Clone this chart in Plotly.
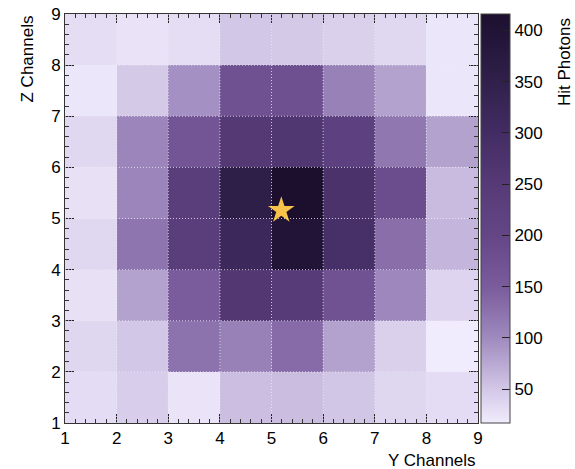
import plotly.graph_objects as go

# Channel centres (bins span 1..9)
y_channels = [1.5, 2.5, 3.5, 4.5, 5.5, 6.5, 7.5, 8.5]
z_channels = [1.5, 2.5, 3.5, 4.5, 5.5, 6.5, 7.5, 8.5]

# Hit photons, rows from Z=1-2 (bottom) to Z=8-9 (top), columns Y=1..8
hit_photons = [
    [31, 45, 24, 57, 58, 51, 37, 31],
    [37, 50, 125, 110, 133, 80, 42, 17],
    [27, 80, 150, 260, 245, 172, 103, 38],
    [36, 122, 235, 315, 395, 290, 130, 65],
    [27, 105, 235, 355, 416, 280, 185, 60],
    [36, 105, 165, 255, 262, 225, 120, 80],
    [22, 48, 95, 175, 177, 110, 80, 22],
    [30, 25, 30, 50, 48, 42, 36, 22],
]

source_y = [5.19]
source_z = [5.16]

tick_vals = [1, 2, 3, 4, 5, 6, 7, 8, 9]
cbar_ticks = [50, 100, 150, 200, 250, 300, 350, 400]

zmin, zmax = 17, 416
def n(v):
    return (v - zmin) / (zmax - zmin)

colorscale = [
    [0.0, "#f1ecfd"],
    [n(50), "#d3c7e7"],
    [n(100), "#9f8abe"],
    [n(150), "#7a5b9c"],
    [n(200), "#644686"],
    [n(250), "#563a77"],
    [n(300), "#432c63"],
    [n(350), "#30204b"],
    [1.0, "#1c0f2e"],
]

FONT = "Liberation Sans, Arial, sans-serif"

fig = go.Figure()
fig.add_trace(go.Heatmap(
    x=y_channels, y=z_channels, z=hit_photons,
    zmin=zmin, zmax=zmax, colorscale=colorscale,
    colorbar=dict(
        x=1.0 + 3 / 413, xanchor="left", xpad=0, ypad=0,
        y=0.5, yanchor="middle", len=1.0, lenmode="fraction",
        thickness=29, outlinewidth=1, outlinecolor="#444",
        tickvals=cbar_ticks, ticks="inside", ticklen=8, tickcolor="#222",
        tickfont=dict(family=FONT, size=17, color="black"),
        title=dict(text=""),
    ),
    hoverinfo="z",
))
fig.add_trace(go.Scatter(
    x=source_y, y=source_z, mode="markers",
    marker=dict(symbol="star", size=20, color="#f7c24a",
                line=dict(width=0)),
    showlegend=False,
))

# dotted grid above the heatmap
grid_line = dict(color="rgba(235,235,245,0.8)", width=1, dash="1px,2px")
for v in tick_vals[1:-1]:
    fig.add_shape(type="line", xref="x", yref="y", x0=v, x1=v, y0=1, y1=9,
                  line=grid_line, layer="above")
    fig.add_shape(type="line", xref="x", yref="y", x0=1, x1=9, y0=v, y1=v,
                  line=grid_line, layer="above")

axis_common = dict(
    range=[1, 9], tickvals=tick_vals, ticks="inside", ticklen=9,
    tickcolor="#222", showline=True, linecolor="#333", linewidth=1,
    mirror="allticks", showgrid=False, zeroline=False,
    tickfont=dict(family=FONT, size=17, color="black"),
    minor=dict(dtick=0.2, ticks="inside", ticklen=4, tickcolor="#333"),
    layer="above traces", ticklabeloverflow="allow",
)

fig.update_layout(
    width=575, height=469,
    margin=dict(l=65, r=97, t=14, b=46, autoexpand=False),
    paper_bgcolor="white", plot_bgcolor="white",
    showlegend=False,
    xaxis=dict(**axis_common),
    yaxis=dict(**axis_common),
    annotations=[
        dict(text="Y Channels", xref="paper", yref="paper", x=1.0, y=0,
             xanchor="right", yanchor="top", yshift=-26, showarrow=False,
             font=dict(family=FONT, size=17, color="black")),
        dict(text="Z Channels", xref="paper", yref="paper", x=0, y=1.0,
             xanchor="center", yanchor="top", xshift=-38, textangle=-90,
             showarrow=False, font=dict(family=FONT, size=17, color="black")),
        dict(text="Hit Photons", xref="paper", yref="paper", x=1.0, y=1.0,
             xanchor="center", yanchor="top", xshift=86, yshift=-2, textangle=-90,
             showarrow=False, font=dict(family=FONT, size=17, color="black")),
    ],
)

fig.write_html(
    "out.html",
    config={"displayModeBar": False},
    post_script="document.body.style.margin='0';document.body.style.overflow='hidden';",
)
